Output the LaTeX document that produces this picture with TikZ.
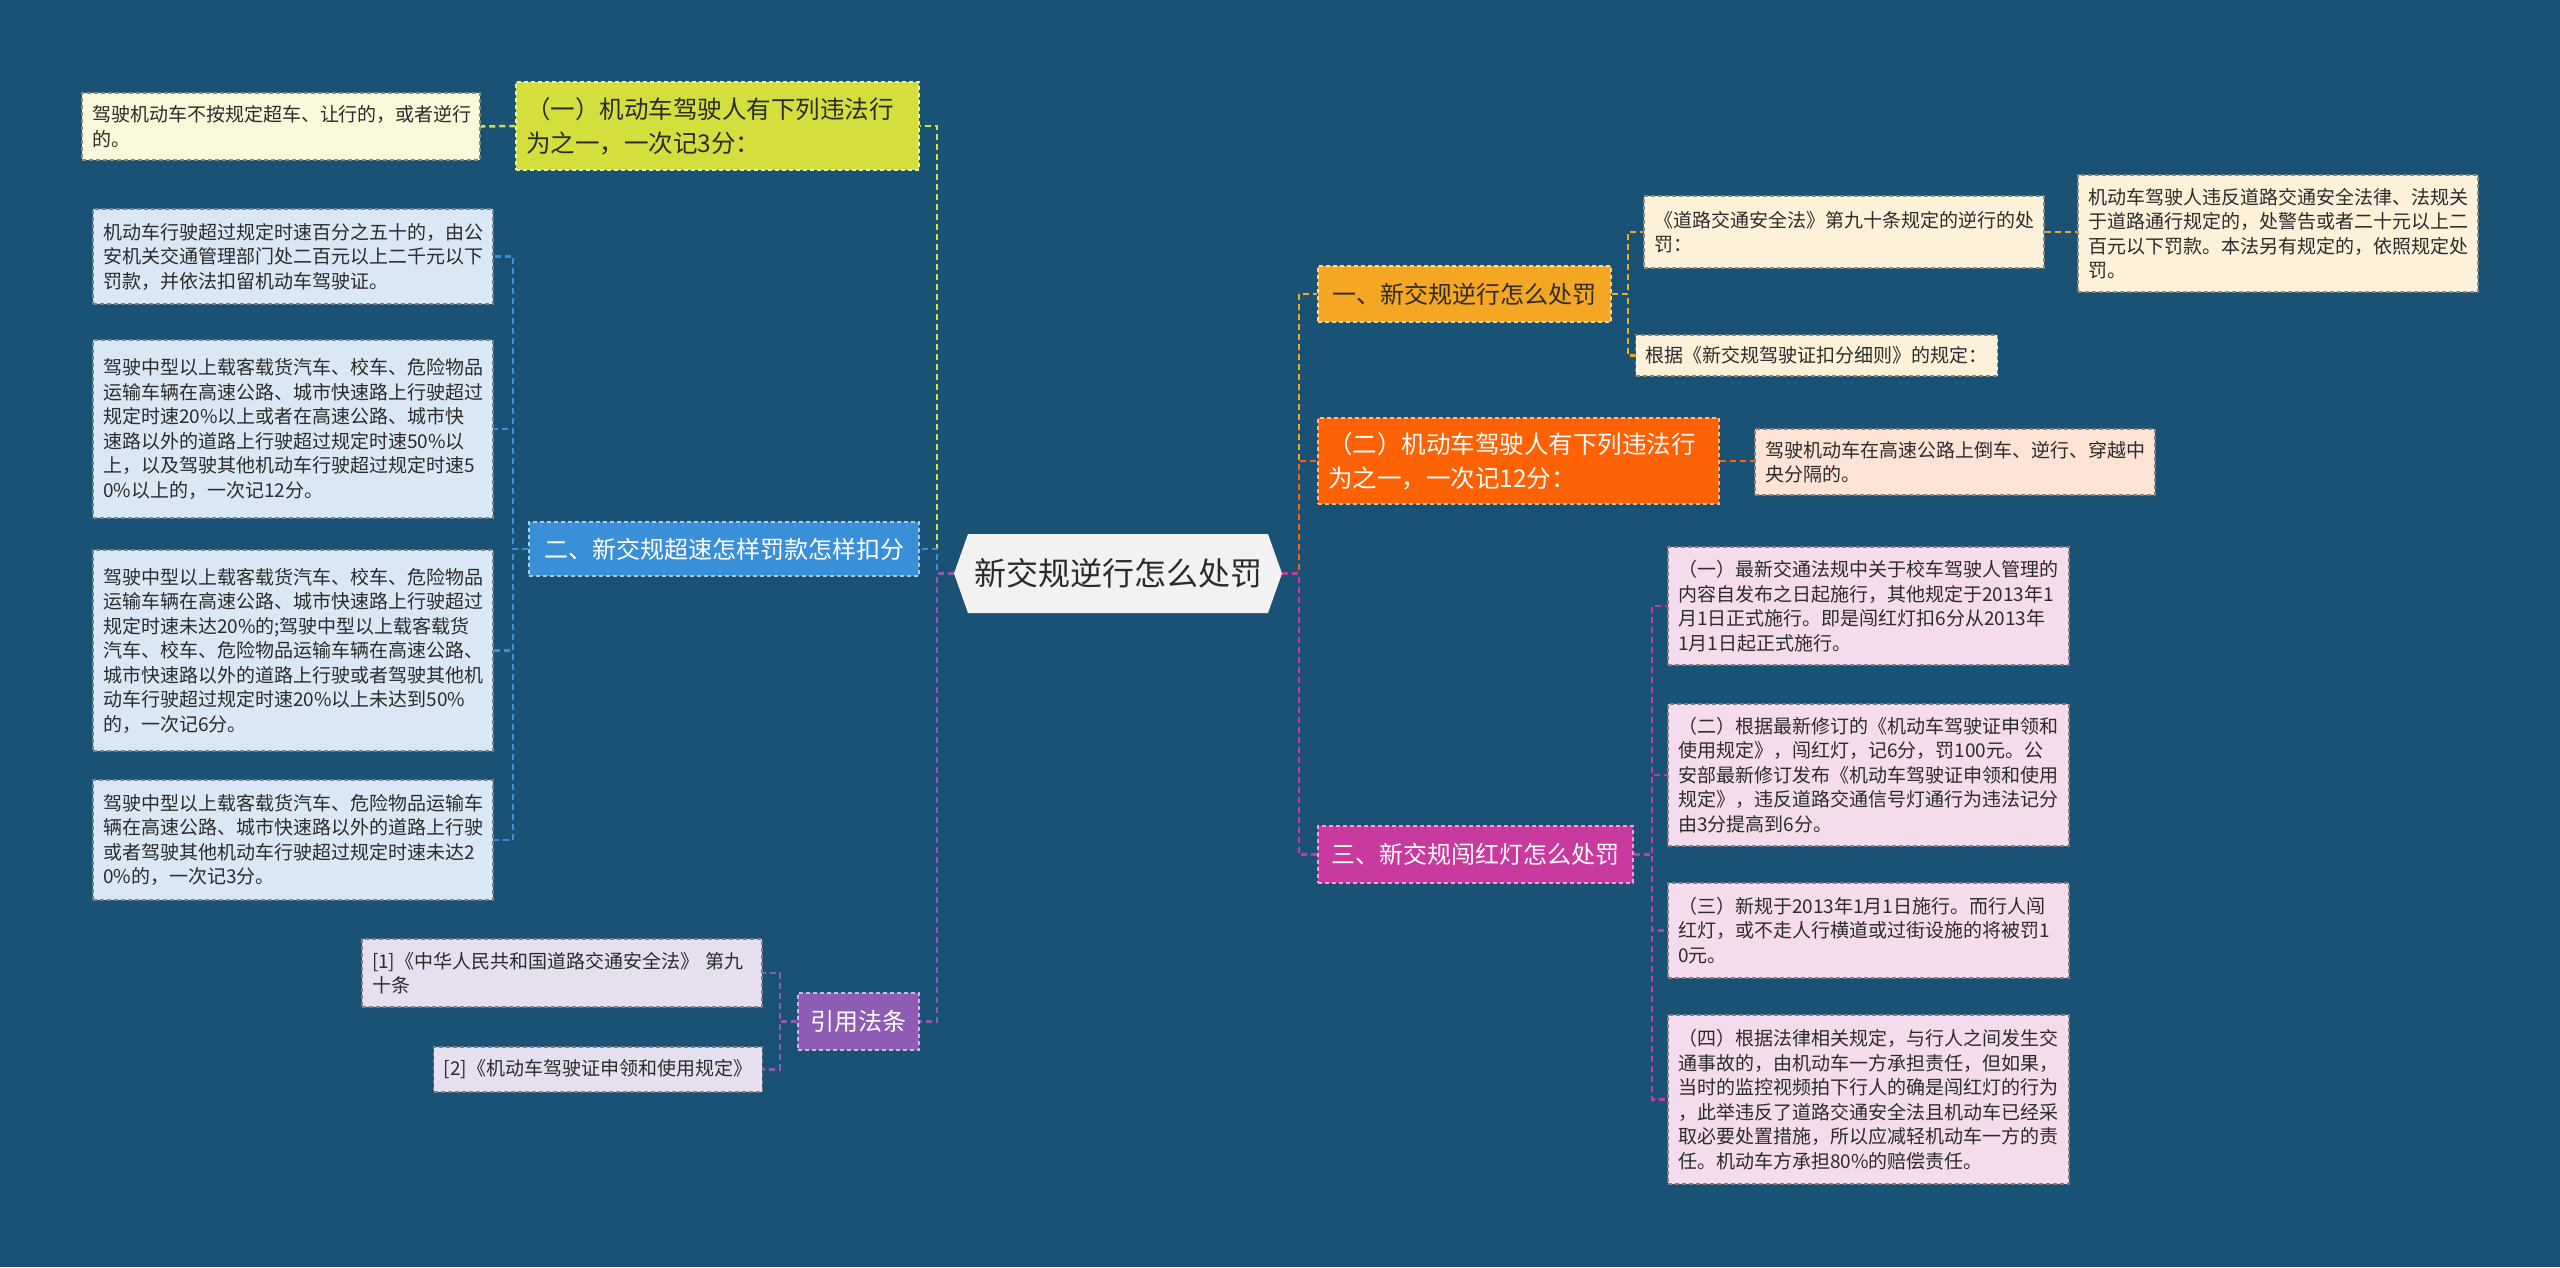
\documentclass[tikz,border=0pt]{standalone}
\usepackage{fontspec}
\setmainfont{Noto Sans CJK SC}
\newcommand\leaffont{\fontsize{19}{24.5}\selectfont}
\newcommand\brfont{\fontsize{24}{34}\selectfont}
\newcommand\rootfont{\fontsize{32}{38}\selectfont}
\definecolor{bg}{HTML}{1A5276}
\definecolor{txt}{HTML}{2B2B2B}
\definecolor{cA}{HTML}{D4DF3E}
\definecolor{cAl}{HTML}{F8F8DA}
\definecolor{cB}{HTML}{3A8FD9}
\definecolor{cBl}{HTML}{DAE8F6}
\definecolor{cC}{HTML}{8E5CB5}
\definecolor{cCl}{HTML}{E5DFF0}
\definecolor{cD}{HTML}{F5A623}
\definecolor{cDl}{HTML}{FDF1DA}
\definecolor{cE}{HTML}{FF6105}
\definecolor{cEl}{HTML}{FCE3D5}
\definecolor{cF}{HTML}{C93A9E}
\definecolor{cFl}{HTML}{F5DCEC}
\definecolor{rootfill}{HTML}{F2F2F2}
\begin{document}
\begin{tikzpicture}[x=1pt,y=-1pt,
  leafbox/.style={rectangle, fill=#1, preaction={draw=white, line width=1.3pt},
    draw=#1!55!black, dash pattern=on 4pt off 3pt, line width=1.3pt,
    inner xsep=10pt, inner ysep=2pt, font=\leaffont, text=txt, align=left},
  brbox/.style={rectangle, fill=#1, draw=white!55!#1, dash pattern=on 4pt off 3pt, line width=1.5pt,
    inner xsep=10pt, inner ysep=2pt, font=\brfont, align=left},
  conn/.style={draw=#1, line width=2.5pt, dash pattern=on 6pt off 4pt}]
\useasboundingbox (0,0) rectangle (2560,1267);
\fill[bg] (0,0) rectangle (2560,1267);

% root
\node[rectangle, minimum width=328pt, minimum height=79pt, inner sep=0pt, font=\rootfont, text=txt,
  path picture={\fill[rootfill] (path picture bounding box.west) -- ([xshift=14pt]path picture bounding box.north west)
   -- ([xshift=-14pt]path picture bounding box.north east) -- (path picture bounding box.east)
   -- ([xshift=-14pt]path picture bounding box.south east) -- ([xshift=14pt]path picture bounding box.south west) -- cycle;}]
  (root) at (1118,573.5) {新交规逆行怎么处罚};

% left branches
\node[brbox=cA, text=txt, text width=383pt, minimum height=88pt, font=\fontsize{24.5}{34}\selectfont] (A) at (717.5,126)
  {（一）机动车驾驶人有下列违法行\\为之一，一次记3分：};
\node[leafbox=cAl, text width=378pt, minimum height=67pt] (A1) at (281,126.5)
  {驾驶机动车不按规定超车、让行的，或者逆行\\的。};

\node[brbox=cB, text=white, minimum width=390pt, minimum height=54pt, align=center] (B) at (724,549)
  {二、新交规超速怎样罚款怎样扣分};
\node[leafbox=cBl, text width=380pt, minimum height=95pt] (B1) at (293,256.5)
  {机动车行驶超过规定时速百分之五十的，由公\\安机关交通管理部门处二百元以上二千元以下\\罚款，并依法扣留机动车驾驶证。};
\node[leafbox=cBl, text width=380pt, minimum height=178pt] (B2) at (293,429)
  {驾驶中型以上载客载货汽车、校车、危险物品\\运输车辆在高速公路、城市快速路上行驶超过\\规定时速20\%以上或者在高速公路、城市快\\速路以外的道路上行驶超过规定时速50\%以\\上，以及驾驶其他机动车行驶超过规定时速5\\0\%以上的，一次记12分。};
\node[leafbox=cBl, text width=380pt, minimum height=201pt] (B3) at (293,650.5)
  {驾驶中型以上载客载货汽车、校车、危险物品\\运输车辆在高速公路、城市快速路上行驶超过\\规定时速未达20\%的;驾驶中型以上载客载货\\汽车、校车、危险物品运输车辆在高速公路、\\城市快速路以外的道路上行驶或者驾驶其他机\\动车行驶超过规定时速20\%以上未达到50\%\\的，一次记6分。};
\node[leafbox=cBl, text width=380pt, minimum height=120pt] (B4) at (293,840)
  {驾驶中型以上载客载货汽车、危险物品运输车\\辆在高速公路、城市快速路以外的道路上行驶\\或者驾驶其他机动车行驶超过规定时速未达2\\0\%的，一次记3分。};

\node[brbox=cC, text=white, minimum width=121pt, minimum height=57pt, align=center] (C) at (858.5,1021.5) {引用法条};
\node[leafbox=cCl, text width=380pt, minimum height=68pt] (C1) at (562,973)
  {[1]《中华人民共和国道路交通安全法》 第九\\十条};
\node[leafbox=cCl, minimum width=328pt, minimum height=45pt, align=center] (C2) at (598,1069.5)
  {[2]《机动车驾驶证申领和使用规定》};

% right branches
\node[brbox=cD, text=txt, minimum width=293pt, minimum height=56pt, align=center] (D) at (1464.5,294)
  {一、新交规逆行怎么处罚};
\node[leafbox=cDl, text width=380pt, minimum height=72pt] (D1) at (1844,232)
  {《道路交通安全法》第九十条规定的逆行的处\\罚：};
\node[leafbox=cDl, text width=380pt, minimum height=117pt] (D3) at (2278,233.5)
  {机动车驾驶人违反道路交通安全法律、法规关\\于道路通行规定的，处警告或者二十元以上二\\百元以下罚款。本法另有规定的，依照规定处\\罚。};
\node[leafbox=cDl, minimum width=345pt, minimum height=41pt, align=center] (D2) at (1816.5,355.5)
  {根据《新交规驾驶证扣分细则》的规定：};

\node[brbox=cE, text=white, text width=381pt, minimum height=86pt, font=\fontsize{24.5}{34}\selectfont] (E) at (1518.5,461)
  {（二）机动车驾驶人有下列违法行\\为之一，一次记12分：};
\node[leafbox=cEl, text width=380pt, minimum height=66pt] (E1) at (1955,462)
  {驾驶机动车在高速公路上倒车、逆行、穿越中\\央分隔的。};

\node[brbox=cF, text=white, minimum width=315pt, minimum height=57pt, align=center] (F) at (1475.5,854.5)
  {三、新交规闯红灯怎么处罚};
\node[leafbox=cFl, text width=381pt, minimum height=118pt] (F1) at (1868.5,606)
  {（一）最新交通法规中关于校车驾驶人管理的\\内容自发布之日起施行，其他规定于2013年1\\月1日正式施行。即是闯红灯扣6分从2013年\\1月1日起正式施行。};
\node[leafbox=cFl, text width=381pt, minimum height=142pt] (F2) at (1868.5,775)
  {（二）根据最新修订的《机动车驾驶证申领和\\使用规定》，闯红灯，记6分，罚100元。公\\安部最新修订发布《机动车驾驶证申领和使用\\规定》，违反道路交通信号灯通行为违法记分\\由3分提高到6分。};
\node[leafbox=cFl, text width=381pt, minimum height=95pt] (F3) at (1868.5,930.5)
  {（三）新规于2013年1月1日施行。而行人闯\\红灯，或不走人行横道或过街设施的将被罚1\\0元。};
\node[leafbox=cFl, text width=381pt, minimum height=169pt] (F4) at (1868.5,1099.5)
  {（四）根据法律相关规定，与行人之间发生交\\通事故的，由机动车一方承担责任，但如果，\\当时的监控视频拍下行人的确是闯红灯的行为\\，此举违反了道路交通安全法且机动车已经采\\取必要处置措施，所以应减轻机动车一方的责\\任。机动车方承担80\%的赔偿责任。};

% junction coordinates
\coordinate (LT) at (937,573.5);
\coordinate (RT) at (1299,573.5);
\coordinate (Bj) at (513,549);
\coordinate (Cj) at (780,1021.5);
\coordinate (Dj) at (1628,294);
\coordinate (Fj) at (1652,854.5);

% main connectors
\draw[conn=cA] (root.west) -- (LT) |- (A.east);
\draw[conn=cB] (root.west) -- (LT) |- (B.east);
\draw[conn=cC] (root.west) -- (LT) |- (C.east);
\draw[conn=cD] (root.east) -- (RT) |- (D.west);
\draw[conn=cE] (root.east) -- (RT) |- (E.west);
\draw[conn=cF] (root.east) -- (RT) |- (F.west);

% leaf connectors
\draw[conn=cA] (A.west) -- (A1.east);
\foreach \n in {B1,B2,B3,B4} \draw[conn=cB] (B.west) -- (Bj) |- (\n.east);
\foreach \n in {C1,C2} \draw[conn=cC] (C.west) -- (Cj) |- (\n.east);
\foreach \n in {D1,D2} \draw[conn=cD] (D.east) -- (Dj) |- (\n.west);
\draw[conn=cD] (D1.east) -- (D1.east -| D3.west);
\draw[conn=cE] (E.east) -- (E.east -| E1.west);
\foreach \n in {F1,F2,F3,F4} \draw[conn=cF] (F.east) -- (Fj) |- (\n.west);
\end{tikzpicture}
\end{document}
